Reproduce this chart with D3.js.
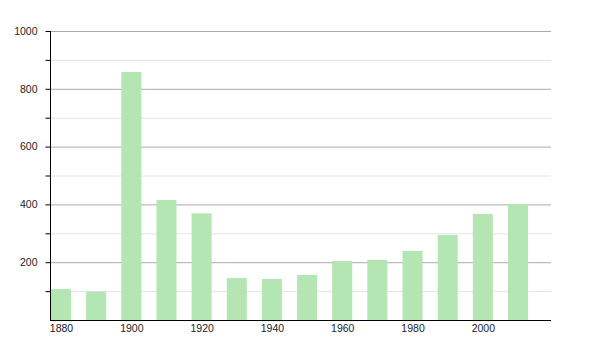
<!DOCTYPE html>
<html>
<head>
<meta charset="utf-8">
<script src="https://cdn.jsdelivr.net/npm/d3@7"></script>
<style>
  body { margin: 0; background: #fff; }
  svg text { font-family: "Liberation Sans", Arial, sans-serif; }
</style>
</head>
<body>
<div id="chart"></div>
<script>
// data
const years = [1880, 1890, 1900, 1910, 1920, 1930, 1940, 1950, 1960, 1970, 1980, 1990, 2000, 2010];
const values = [107, 98, 858, 415, 369, 145, 142, 156, 204, 208, 239, 294, 367, 401];
const yTicks = [200, 400, 600, 800, 1000];
const yMinor = [100, 300, 500, 700, 900];
const xLabels = [1880, 1900, 1920, 1940, 1960, 1980, 2000];

(() => {
  const W = 600, H = 350;
  const left = 50, right = 551, top = 31, bottom = 320;

  const svg = d3.select("#chart").append("svg")
    .attr("width", W)
    .attr("height", H);

  const y = d3.scaleLinear()
    .domain([0, 1000])
    .range([bottom, top]);

  // bar band: step ~35px, bar ~20px wide
  const x = d3.scaleBand()
    .domain(years)
    .range([51, 528])
    .paddingInner(0.43)
    .paddingOuter(0);

  // grid lines
  svg.append("g").selectAll("line")
    .data(yMinor)
    .enter().append("line")
    .attr("x1", left).attr("x2", right)
    .attr("y1", d => y(d) + 0.5).attr("y2", d => y(d) + 0.5)
    .attr("stroke", "#e4e4e4");

  svg.append("g").selectAll("line")
    .data(yTicks)
    .enter().append("line")
    .attr("x1", left).attr("x2", right)
    .attr("y1", d => y(d) + 0.5).attr("y2", d => y(d) + 0.5)
    .attr("stroke", "#aaaaaa");

  // bars
  svg.append("g").selectAll("rect")
    .data(years)
    .enter().append("rect")
    .attr("x", d => x(d))
    .attr("width", x.bandwidth())
    .attr("y", (d, i) => y(values[i]))
    .attr("height", (d, i) => y(0) - y(values[i]))
    .attr("fill", "#b3e6b3");

  // y axis
  const axeY = d3.axisLeft(y)
    .tickValues(yTicks.concat(yMinor))
    .tickSize(5)
    .tickPadding(8)
    .tickFormat(d => yTicks.includes(d) ? d : "");

  const gy = svg.append("g")
    .attr("transform", `translate(${left + 0.5},0)`)
    .call(axeY);
  gy.select(".domain").attr("d", `M0,${top}V${bottom}`).attr("stroke", "#000");
  gy.selectAll("text").style("font-size", "10.5px").attr("fill", "#222");
  gy.selectAll(".tick line").attr("stroke", "#000");

  // x axis
  const xs = d3.scaleLinear()
    .domain([years[0], years[years.length - 1]])
    .range([x(years[0]) + x.bandwidth() / 2, x(years[years.length - 1]) + x.bandwidth() / 2]);

  const axeX = d3.axisBottom(xs)
    .tickValues(xLabels)
    .tickSize(0)
    .tickPadding(4)
    .tickFormat(d => d);

  const gx = svg.append("g")
    .attr("transform", `translate(0,${bottom + 0.5})`)
    .call(axeX);
  gx.select(".domain").attr("d", `M${left},0H${right}`).attr("stroke", "#000");
  gx.selectAll("text").style("font-size", "10.5px").attr("fill", "#222");
})();
</script>
</body>
</html>
